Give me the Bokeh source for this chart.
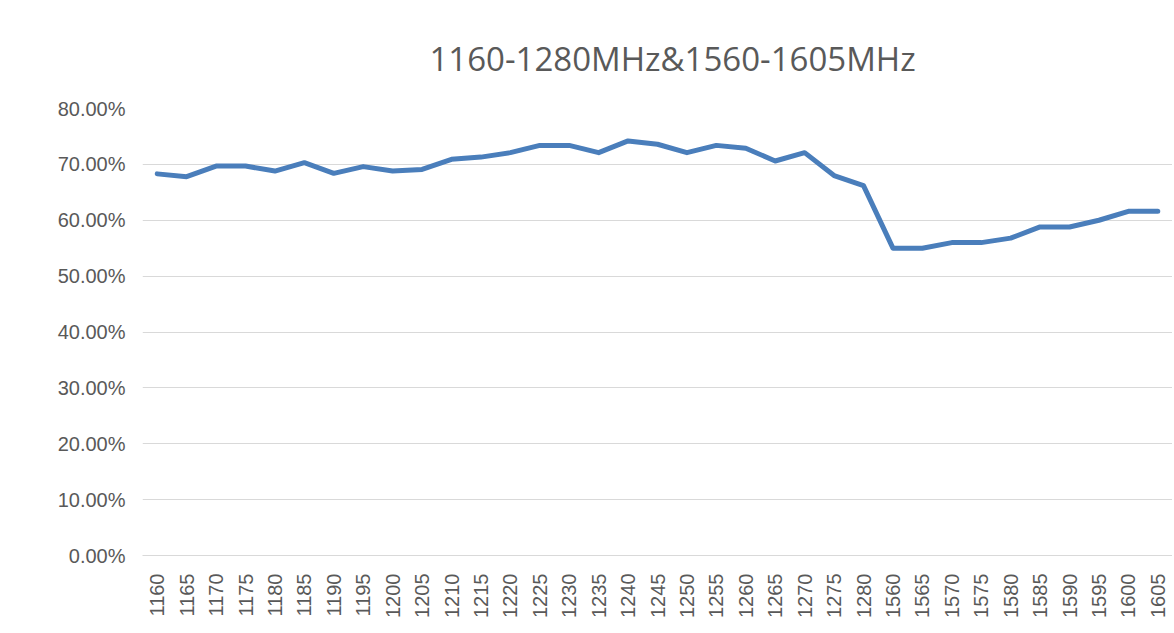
from bokeh.plotting import figure
from bokeh.models import ColumnDataSource, NumeralTickFormatter, FixedTicker, Range1d
from bokeh.embed import file_html
from bokeh.resources import INLINE
import math

freqs = ["1160", "1165", "1170", "1175", "1180", "1185", "1190", "1195", "1200", "1205",
         "1210", "1215", "1220", "1225", "1230", "1235", "1240", "1245", "1250", "1255",
         "1260", "1265", "1270", "1275", "1280",
         "1560", "1565", "1570", "1575", "1580", "1585", "1590", "1595", "1600", "1605"]
efficiency_pct = [68.3, 67.8, 69.7, 69.7, 68.8, 70.3, 68.4, 69.6, 68.8, 69.1,
                  70.9, 71.3, 72.1, 73.4, 73.4, 72.1, 74.2, 73.6, 72.1, 73.4,
                  72.9, 70.6, 72.1, 68.0, 66.2,
                  55.0, 55.0, 56.0, 56.0, 56.8, 58.8, 58.8, 60.0, 61.6, 61.6]
y_ticks = [0.0, 0.1, 0.2, 0.3, 0.4, 0.5, 0.6, 0.7, 0.8]
title_text = "1160-1280MHz&1560-1605MHz"

src = ColumnDataSource(dict(f=freqs, e=[v / 100.0 for v in efficiency_pct]))

p = figure(x_range=freqs, width=1172, height=625, output_backend="svg",
           toolbar_location=None, min_border_left=142, min_border_right=0,
           min_border_top=108, min_border_bottom=70, title=title_text)
p.y_range = Range1d(0, 0.8)
p.outline_line_color = None
p.background_fill_color = "white"
p.border_fill_color = "white"

p.title.align = "left"
p.title.offset = 287
p.title.standoff = 52
p.title.vertical_align = "top"
p.title.text_font = "Open Sans"
p.title.text_font_size = "33px"
p.title.text_font_style = "normal"
p.title.text_color = "#595959"

p.line("f", "e", source=src, line_color="#4A7EBB", line_width=5,
       line_join="round", line_cap="round")

p.xgrid.grid_line_color = None
p.ygrid.grid_line_color = "#D9D9D9"
p.ygrid.grid_line_width = 1

p.yaxis.ticker = FixedTicker(ticks=y_ticks)
p.yaxis.formatter = NumeralTickFormatter(format="0.00%")
p.yaxis.axis_line_color = None
p.yaxis.major_tick_line_color = None
p.yaxis.minor_tick_line_color = None
p.yaxis.major_label_text_font = "Liberation Sans"
p.yaxis.major_label_text_font_size = "20px"
p.yaxis.major_label_text_color = "#595959"
p.yaxis.major_label_standoff = 11

p.xaxis.axis_line_color = "#D9D9D9"
p.xaxis.major_tick_line_color = None
p.xaxis.minor_tick_line_color = None
p.xaxis.major_label_orientation = math.pi / 2
p.xaxis.major_label_text_font = "Liberation Sans"
p.xaxis.major_label_text_font_size = "20px"
p.xaxis.major_label_text_color = "#595959"
p.xaxis.major_label_standoff = 12

open("out.html", "w").write(file_html(p, INLINE))
